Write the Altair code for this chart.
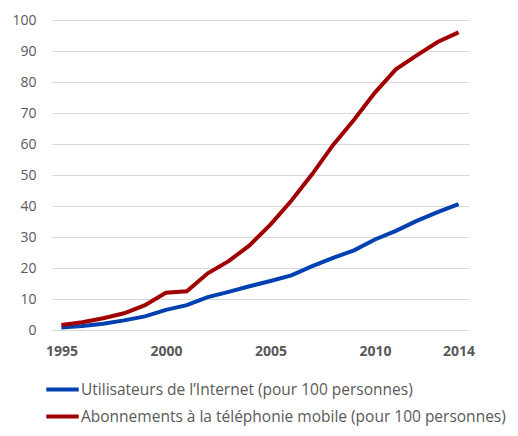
import altair as alt
import pandas as pd

years = list(range(1995, 2015))
internet = [0.8, 1.3, 2.0, 3.1, 4.4, 6.5, 8.0, 10.6, 12.3, 14.1, 15.8, 17.6, 20.6, 23.3, 25.7, 29.2, 32.0, 35.2, 38.0, 40.6]
mobile = [1.6, 2.5, 3.8, 5.4, 8.0, 12.0, 12.5, 18.3, 22.2, 27.3, 34.0, 41.7, 50.3, 59.7, 67.8, 76.6, 84.1, 88.6, 92.9, 96.0]
series_names = ["Utilisateurs de l\u2019Internet (pour 100 personnes)",
                "Abonnements \u00e0 la t\u00e9l\u00e9phonie mobile (pour 100 personnes)"]
colors = ["#0040B0", "#A00000"]
x_ticks = [1995, 2000, 2005, 2010, 2014]

rows = []
for y, a, b in zip(years, internet, mobile):
    rows.append({"year": y, "value": a, "series": series_names[0]})
    rows.append({"year": y, "value": b, "series": series_names[1]})
df = pd.DataFrame(rows)

font = "Open Sans"
chart = alt.Chart(df).mark_line(strokeWidth=4).encode(
    x=alt.X("year:Q", scale=alt.Scale(domain=[1994.55, 2014.5], nice=False, zero=False),
            axis=alt.Axis(values=x_ticks, format="d", grid=False, domain=False, ticks=False,
                          labelPadding=14, labelFontSize=14, labelColor="#595959",
                          labelFont=font, labelFontWeight="bold", title=None)),
    y=alt.Y("value:Q", scale=alt.Scale(domain=[0, 100], nice=False),
            axis=alt.Axis(values=list(range(0, 101, 10)), grid=True, gridColor="#D9D9D9",
                          gridWidth=1.2, domain=False, ticks=False, labelPadding=16,
                          labelFontSize=14, labelColor="#595959", labelFont=font, title=None)),
    color=alt.Color("series:N", scale=alt.Scale(domain=series_names, range=colors),
                    sort=series_names,
                    legend=alt.Legend(orient="none", legendX=-8, legendY=351, title=None,
                                      symbolType="stroke", symbolSize=1050, symbolStrokeWidth=4,
                                      labelFontSize=15.5, labelColor="#595959", labelFont=font,
                                      labelLimit=600, rowPadding=0, labelOffset=0,
                                      direction="vertical")),
).properties(
    width=417, height=310,
    autosize=alt.AutoSizeParams(type="none"),
    padding={"left": 44, "top": 12, "right": 41, "bottom": 98},
).configure_view(stroke=None)

chart.save("out.html", embed_options={"renderer": "svg", "actions": False})
